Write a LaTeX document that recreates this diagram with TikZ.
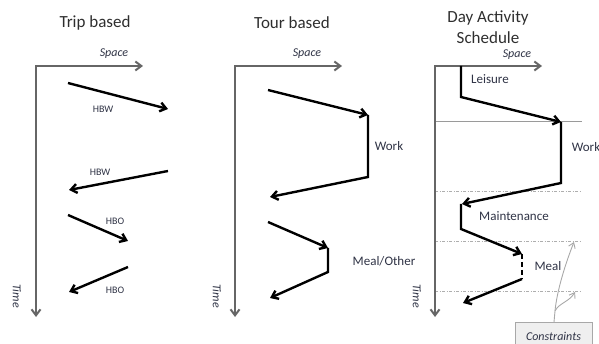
\documentclass[tikz,border=0pt]{standalone}
\usepackage{fontspec}
\setmainfont{Carlito}
\usetikzlibrary{arrows.meta}

\definecolor{axisgray}{HTML}{666666}
\definecolor{titleink}{HTML}{2E2E2E}
\definecolor{labelink}{HTML}{2F3345}
\definecolor{guidegray}{HTML}{9A9A9A}
\definecolor{boxfill}{HTML}{EFEFEF}
\definecolor{boxline}{HTML}{A8A8A8}

\begin{document}
\begin{tikzpicture}[x=1pt,y=-1pt,
  barb/.tip={Straight Barb[length=6pt,width=9pt]},
  axis/.style={draw=axisgray, line width=2pt, line join=miter, {barb}-{barb}},
  trip/.style={draw=black, line width=2.4pt, line join=miter, -{barb}},
  dashleg/.style={draw=black, line width=2.4pt, dash pattern=on 5pt off 3pt},
  title/.style={font=\fontsize{17}{21}\selectfont, text=titleink, align=center, inner sep=0pt},
  lbl/.style={font=\fontsize{13}{15}\selectfont, text=labelink, inner sep=0pt},
  tiny/.style={font=\fontsize{10}{12}\selectfont, text=labelink, inner sep=0pt},
  axlbl/.style={font=\fontsize{12}{14}\selectfont\itshape, text=labelink, inner sep=0pt},
  divider/.style={draw=guidegray, line width=1pt},
  guide/.style={draw=guidegray!80, line width=0.8pt, dash pattern=on 3pt off 1.5pt on 1pt off 1.5pt},
  hint/.style={draw=boxline, line width=0.9pt, -{Straight Barb[length=5pt,width=7pt]}},
  note/.style={draw=boxline, fill=boxfill, line width=0.9pt, minimum width=77pt, minimum height=28pt,
               font=\fontsize{12}{14}\selectfont\itshape, text=labelink, inner sep=0pt}
]
\useasboundingbox (0,0) rectangle (599,344);

% ---------- Trip based ----------
\node[title] (t1) at (95,23) {Trip based};
\coordinate (o1) at (36,66);
\coordinate (x1) at (143,66);
\coordinate (y1) at (36,317);
\draw[axis] (y1) -- (o1) -- (x1);
\node[axlbl] (s1) at (114,54) {Space};
\node[axlbl, rotate=-90] (tm1) at (17,296) {Time};

\coordinate (a1) at (68,83);   \coordinate (b1) at (168,109);
\coordinate (a2) at (168,171); \coordinate (b2) at (69,190);
\coordinate (a3) at (68,215);  \coordinate (b3) at (128,241);
\coordinate (a4) at (128,267); \coordinate (b4) at (69,292);
\draw[trip] (a1) -- (b1);
\draw[trip] (a2) -- (b2);
\draw[trip] (a3) -- (b3);
\draw[trip] (a4) -- (b4);
\node[tiny] (l1) at (103,109) {HBW};
\node[tiny] (l2) at (100,172) {HBW};
\node[tiny] (l3) at (115,221) {HBO};
\node[tiny] (l4) at (115,290) {HBO};

% ---------- Tour based ----------
\node[title] (t2) at (292,23) {Tour based};
\coordinate (o2) at (235,66);
\coordinate (x2) at (342,66);
\coordinate (y2) at (235,317);
\draw[axis] (y2) -- (o2) -- (x2);
\node[axlbl] (s2) at (307,54) {Space};
\node[axlbl, rotate=-90] (tm2) at (217,296) {Time};

\coordinate (c1) at (268,90);  \coordinate (c2) at (368,115);
\coordinate (c3) at (368,177); \coordinate (c4) at (270,197);
\draw[trip] (c1) -- (c2);
\draw[trip] (c2) -- (c3) -- (c4);
\node[lbl] (w2) at (389,146) {Work};

\coordinate (d1) at (268,222); \coordinate (d2) at (328,248);
\coordinate (d3) at (328,272); \coordinate (d4) at (270,298);
\draw[trip] (d1) -- (d2);
\draw[trip] (d2) -- (d3) -- (d4);
\node[lbl] (m2) at (384,261) {Meal/Other};

% ---------- Day Activity Schedule ----------
\node[title] (t3) at (488,27) {Day Activity\\Schedule};
\coordinate (o3) at (435,66);
\coordinate (x3) at (542,66);
\coordinate (y3) at (435,317);

\coordinate (g0a) at (435,122); \coordinate (g0b) at (582,122);
\coordinate (g1a) at (435,191); \coordinate (g1b) at (582,191);
\coordinate (g2a) at (435,241); \coordinate (g2b) at (582,241);
\coordinate (g3a) at (435,291); \coordinate (g3b) at (582,291);
\draw[divider] (g0a) -- (g0b);
\draw[guide] (g1a) -- (g1b);
\draw[guide] (g2a) -- (g2b);
\draw[guide] (g3a) -- (g3b);

\draw[axis] (y3) -- (o3) -- (x3);
\node[axlbl] (s3) at (517,55) {Space};
\node[axlbl, rotate=-90] (tm3) at (417,296) {Time};

\coordinate (e0) at (461,66);  \coordinate (e1) at (461,97);
\coordinate (e2) at (561,122); \coordinate (e3) at (561,183);
\coordinate (e4) at (462,204); \coordinate (e5) at (461,229);
\coordinate (e6) at (522,254); \coordinate (e7) at (522,279);
\coordinate (e8) at (463,303);
\draw[trip] (e0) -- (e1) -- (e2);
\draw[trip] (e2) -- (e3) -- (e4);
\draw[trip] (e4 -| e5) -- (e5) -- (e6);
\draw[dashleg] (e6) -- (e7);
\draw[trip] (e7) -- (e8);
\node[lbl] (le) at (490,79) {Leisure};
\node[lbl] (w3) at (586,147) {Work};
\node[lbl] (mt) at (514,216) {Maintenance};
\node[lbl] (ml) at (548,266) {Meal};

% constraints note and its pointers
\begin{scope}
  \clip (0,0) rectangle (599,344);
  \node[note] (cn) at (553.5,336) {Constraints};
\end{scope}
\coordinate (k0) at (554,322);
\coordinate (k1) at (555,311);
\coordinate (ka) at (574,242);
\coordinate (kb) at (575,292);
\draw[hint] (k0) -- (k1) .. controls (557,290) and (566,262) .. (ka);
\draw[hint] (k1) .. controls (559,303) and (569,302) .. (kb);
\end{tikzpicture}
\end{document}
